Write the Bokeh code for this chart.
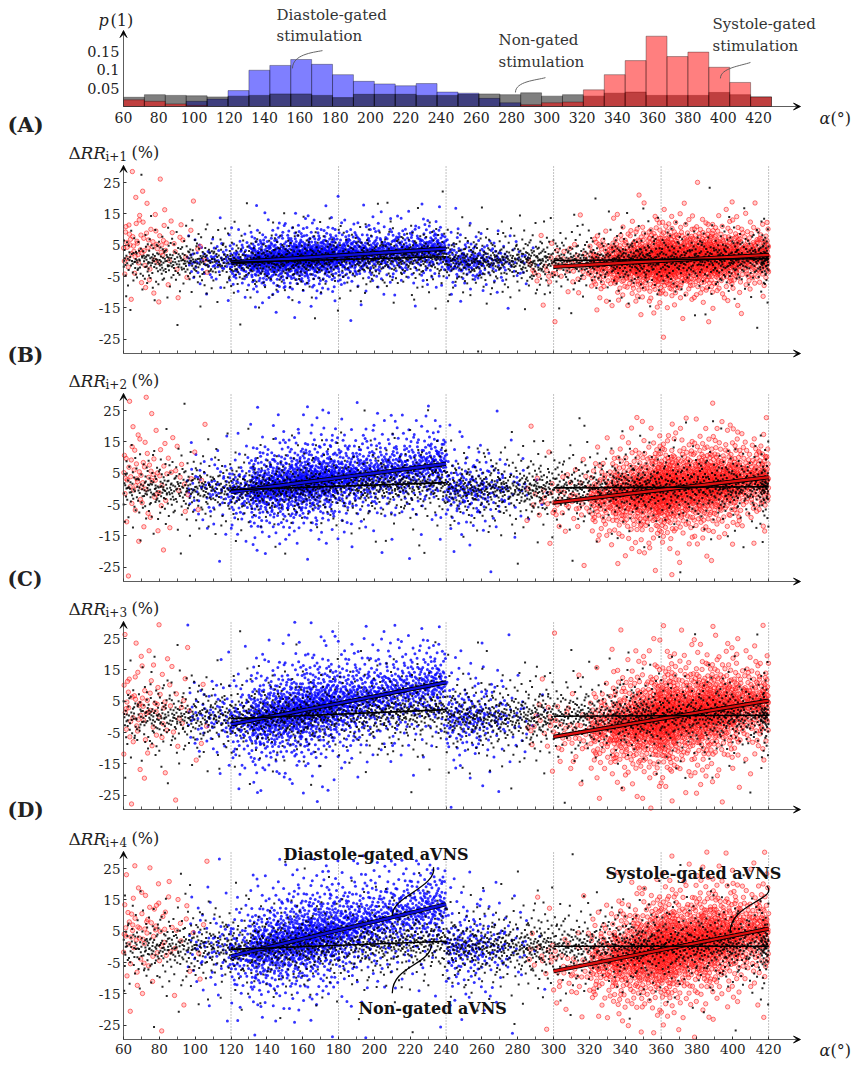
import numpy as np
from bokeh.plotting import figure
from bokeh.layouts import column
from bokeh.models import Label, Arrow, VeeHead, FixedTicker
from bokeh.embed import file_html
from bokeh.resources import INLINE

# ---------------- data ----------------
HIST_START = 60.0
HIST_WIDTH = 11.85          # degrees per histogram bin (31 bins)
HIST_BLUE = [0, 0, 0, 0.014, 0.020, 0.043, 0.098, 0.111, 0.127, 0.114, 0.086, 0.068,
             0.061, 0.056, 0.062, 0.039, 0.036, 0.022, 0.010, 0.002, 0, 0, 0, 0,
             0, 0, 0, 0, 0, 0, 0]
HIST_GRAY = [0.025, 0.032, 0.030, 0.029, 0.026, 0.028, 0.030, 0.034, 0.034, 0.030, 0.024,
             0.033, 0.033, 0.033, 0.030, 0.030, 0.033, 0.034, 0.032, 0.037, 0.028, 0.032,
             0.028, 0.036, 0.039, 0.030, 0.030, 0.030, 0.038, 0.032, 0.026]
HIST_RED = [0.018, 0.014, 0.007, 0.003, 0, 0, 0, 0, 0, 0, 0, 0, 0, 0, 0, 0, 0, 0, 0,
            0.005, 0.010, 0.012, 0.045, 0.086, 0.124, 0.190, 0.135, 0.147, 0.106, 0.065, 0.026]
X_TICKS = [60, 80, 100, 120, 140, 160, 180, 200, 220, 240, 260, 280, 300, 320, 340, 360, 380, 400, 420]
X_MINOR = [70, 90, 110, 130, 150, 170, 190, 210, 230, 250, 270, 290, 310, 330, 350, 370, 390, 410]
HIST_Y_TICKS = [0.05, 0.1, 0.15]
Y_TICKS = [-25, -15, -5, 5, 15, 25]
V_LINES = [120, 180, 240, 300, 360, 420]

PANEL_SUB = ["i+1", "i+2", "i+3", "i+4"]
PANEL_TAG = ["(A)", "(B)", "(C)", "(D)"]
# regression lines (value at gate start, value at gate end)
DIA_GATE = [120, 240]
SYS_GATE = [300, 420]
BLUE_Y0 = [-0.5, -1.0, -2.4, -3.0]
BLUE_Y1 = [3.9, 8.0, 11.0, 13.6]
NGD_Y0 = [-0.5, -0.3, -0.6, -0.8]
NGD_Y1 = [1.3, 2.0, 2.3, 1.8]
RED_Y0 = [-1.9, -4.4, -6.4, -7.8]
RED_Y1 = [1.9, 3.7, 5.2, 5.8]
NGS_Y0 = [0.1, 0.3, 0.2, 0.2]
NGS_Y1 = [0.7, 0.7, 0.5, 0.2]
# spread of the clouds (Laplace scale, %) per panel
BLACK_SPREAD = [3.4, 4.0, 4.4, 4.6]
BLUE_SPREAD = [3.0, 4.6, 5.4, 5.8]
RED_SPREAD = [3.3, 4.5, 5.3, 5.5]
RED_WRAP_CENTER = [5.0, 4.0, 3.0, 5.0]
RED_WRAP_SPREAD = [6.0, 8.0, 9.0, 9.0]
N_BLACK, N_BLUE, N_RED = 2200, 2000, 2000

# ---------------- layout (pixels) ----------------
FONT = "DejaVu Serif"
W = 856
X0_PX = 123                      # pixel column of alpha = 60 deg
HSX, HSY, H_AX = 1.764, 370.0, 106   # histogram scales, baseline row
SX, SY = 1.792, 3.13             # scatter scales
Y_LO, Y_ARROW = -29.6, 30.5
PANEL_ROWS = [(140, 368, 353), (368, 596, 581), (596, 824, 809), (824, 1063, 1039)]


def radical_inverse(idx, base):
    idx = np.asarray(idx, dtype=np.int64).copy()
    f = 1.0
    r = np.zeros(idx.shape)
    while np.any(idx > 0):
        f /= base
        r += f * (idx % base)
        idx //= base
    return r


def inv_hist(u, weights):
    w = np.asarray(weights, dtype=float)
    edges = np.minimum(HIST_START + HIST_WIDTH * np.arange(len(w) + 1), 420.0)
    cdf = np.concatenate([[0.0], np.cumsum(w)]) / w.sum()
    return np.interp(u, cdf, edges)


def laplace(v):
    v = np.clip(v, 1e-4, 1 - 1e-4)
    return -np.sign(v - 0.5) * np.log(1 - 2 * np.abs(v - 0.5))


def cloud(n, weights, offset):
    idx = np.arange(1, n + 1) + offset
    x = inv_hist(radical_inverse(idx, 2), weights)
    e = laplace(radical_inverse(idx, 3))
    return x, e


def line_at(x, gate, y0, y1):
    return np.interp(x, gate, [y0, y1])


def lab(p, x, y, text, size="15px", style="normal", align="left", color="#222"):
    p.add_layout(Label(x=x, y=y, text=text, text_font=FONT, text_font_size=size,
                       text_font_style=style, text_align=align, text_baseline="middle",
                       text_color=color))


def arrow(p, x0, y0, x1, y1):
    p.add_layout(Arrow(end=VeeHead(size=7, fill_color="black", line_color="black", line_width=0.8),
                       x_start=x0, y_start=y0, x_end=x1, y_end=y1,
                       line_color="#333", line_width=0.8))


def base_fig(height, xr, yr):
    p = figure(width=W, height=height, x_range=xr, y_range=yr, toolbar_location=None,
               output_backend="svg", min_border_left=0, min_border_right=0,
               min_border_top=0, min_border_bottom=0)
    p.outline_line_color = None
    p.grid.visible = False
    p.background_fill_color = "white"
    p.border_fill_color = "white"
    for ax in (p.xaxis[0], p.yaxis[0]):
        ax.axis_line_color = None
        ax.major_label_text_font = FONT
        ax.major_label_text_color = "#222"
        ax.major_tick_line_color = "#333"
        ax.minor_tick_line_color = "#555"
    return p


# ---------------- histogram ----------------
hx = lambda px: 60 + (px - X0_PX) / HSX
hy = lambda py: (H_AX - py) / HSY
ph = base_fig(140, (hx(0), hx(W)), (hy(140), hy(0)))
ph.xaxis.fixed_location = 0
ph.yaxis.fixed_location = 60
edges = HIST_START + HIST_WIDTH * np.arange(len(HIST_GRAY) + 1)
for vals, col in ((HIST_BLUE, "blue"), (HIST_GRAY, "black"), (HIST_RED, "red")):
    v = np.asarray(vals)
    m = v > 0
    ph.quad(left=edges[:-1][m], right=edges[1:][m], bottom=0, top=v[m],
            fill_color=col, fill_alpha=0.5, line_color="black", line_alpha=0.55, line_width=0.6)
ph.xaxis.ticker = FixedTicker(ticks=X_TICKS)
ph.xaxis.major_tick_in = 0
ph.xaxis.major_tick_out = 0
ph.xaxis.major_label_standoff = 5
ph.xaxis.major_label_text_font_size = "14px"
ph.yaxis.ticker = FixedTicker(ticks=HIST_Y_TICKS)
ph.yaxis.major_label_overrides = {t: str(t) for t in HIST_Y_TICKS}
ph.yaxis.major_tick_in = 0
ph.yaxis.major_tick_out = 0
ph.yaxis.major_label_standoff = 4
ph.yaxis.major_label_text_font_size = "14.5px"
arrow(ph, 60, 0, 60, hy(30))
arrow(ph, 60, 0, hx(800), 0)
lab(ph, hx(98), hy(20), "p", "16px", "italic")
lab(ph, hx(110), hy(20), "(1)", "16px")
lab(ph, hx(819), hy(118), "α", "16px", "italic")
lab(ph, hx(830), hy(118), "(°)", "16px")
lab(ph, hx(7), hy(124), "(A)", "21px", "bold")
lab(ph, hx(276), hy(14), "Diastole-gated", color="#333")
lab(ph, hx(276), hy(35), "stimulation", color="#333")
lab(ph, hx(498), hy(39), "Non-gated", color="#333")
lab(ph, hx(498), hy(61), "stimulation", color="#333")
lab(ph, hx(712), hy(23), "Systole-gated", color="#333")
lab(ph, hx(712), hy(45), "stimulation", color="#333")
ph.bezier(x0=[172.8, 299.2, 415.4], y0=[0.151, 0.078, 0.119],
          x1=[155.8, 282.2, 398.4], y1=[0.103, 0.038, 0.076],
          cx0=[167.0, 294.0, 410.0], cy0=[0.146, 0.071, 0.110],
          cx1=[155.8, 282.2, 398.4], cy1=[0.140, 0.068, 0.104],
          line_color="#555", line_width=0.9)

figs = [ph]

# ---------------- scatter panels ----------------
for i in range(4):
    top, bot, axis_row = PANEL_ROWS[i]
    sx = lambda px: 60 + (px - X0_PX) / SX
    sy = lambda py, a=axis_row: Y_LO + (a - py) / SY
    p = base_fig(bot - top, (sx(0), sx(W)), (sy(bot), sy(top)))
    p.xaxis.fixed_location = Y_LO
    p.yaxis.fixed_location = 60
    last = i == 3

    # dotted guides
    p.segment(x0=V_LINES, y0=Y_LO, x1=V_LINES, y1=Y_ARROW, line_color="#666",
              line_width=0.8, line_dash="1 2")

    # blue (diastole-gated)
    xb, eb = cloud(N_BLUE, HIST_BLUE, 1 + 7000 * i)
    inside = (xb >= DIA_GATE[0]) & (xb <= DIA_GATE[1])
    yb = np.where(inside, line_at(xb, DIA_GATE, BLUE_Y0[i], BLUE_Y1[i]), 0.0) + BLUE_SPREAD[i] * eb
    # red (systole-gated)
    xr, er = cloud(N_RED, HIST_RED, 3001 + 7000 * i)
    ins = (xr >= SYS_GATE[0]) & (xr <= SYS_GATE[1])
    cen = np.where(ins, line_at(xr, SYS_GATE, RED_Y0[i], RED_Y1[i]),
                   np.where(xr < 120, RED_WRAP_CENTER[i], -3.0))
    spr = np.where(xr < 120, RED_WRAP_SPREAD[i], RED_SPREAD[i])
    yr = cen + spr * er
    # black (non-gated)
    xk, ek = cloud(N_BLACK, HIST_GRAY, 5001 + 7000 * i)
    cen = np.where((xk >= DIA_GATE[0]) & (xk <= DIA_GATE[1]),
                   line_at(xk, DIA_GATE, NGD_Y0[i], NGD_Y1[i]),
                   np.where((xk >= SYS_GATE[0]) & (xk <= SYS_GATE[1]),
                            line_at(xk, SYS_GATE, NGS_Y0[i], NGS_Y1[i]), 0.0))
    yk = cen + BLACK_SPREAD[i] * ek

    def keep(x, y):
        m = (y > Y_LO + 0.3) & (y < Y_ARROW - 0.2)
        return x[m], y[m]

    x_, y_ = keep(xb, yb)
    p.scatter(x_, y_, marker="circle", size=3.0, fill_color="blue", fill_alpha=0.8,
              line_color=None)
    x_, y_ = keep(xr, yr)
    p.scatter(x_, y_, marker="circle", size=4.4, fill_color="#ff6060", fill_alpha=0.3,
              line_color="red", line_alpha=0.75, line_width=0.7)
    x_, y_ = keep(xk, yk)
    p.scatter(x_, y_, marker="square", size=2.0, fill_color="black", fill_alpha=0.85,
              line_color=None)

    # regression lines
    p.segment(x0=[DIA_GATE[0]], y0=[BLUE_Y0[i]], x1=[DIA_GATE[1]], y1=[BLUE_Y1[i]],
              line_color="black", line_width=4.2)
    p.segment(x0=[DIA_GATE[0]], y0=[BLUE_Y0[i]], x1=[DIA_GATE[1]], y1=[BLUE_Y1[i]],
              line_color="#1010e0", line_width=2.4)
    p.segment(x0=[SYS_GATE[0]], y0=[RED_Y0[i]], x1=[SYS_GATE[1]], y1=[RED_Y1[i]],
              line_color="black", line_width=4.2)
    p.segment(x0=[SYS_GATE[0]], y0=[RED_Y0[i]], x1=[SYS_GATE[1]], y1=[RED_Y1[i]],
              line_color="#e01010", line_width=2.4)
    p.segment(x0=[DIA_GATE[0], SYS_GATE[0]], y0=[NGD_Y0[i], NGS_Y0[i]],
              x1=[DIA_GATE[1], SYS_GATE[1]], y1=[NGD_Y1[i], NGS_Y1[i]],
              line_color="black", line_width=1.6)

    # axes
    p.yaxis.ticker = FixedTicker(ticks=Y_TICKS)
    p.yaxis.major_label_overrides = {t: str(t) for t in Y_TICKS}
    p.yaxis.major_tick_in = 3
    p.yaxis.major_tick_out = 0
    p.yaxis.major_label_standoff = 3
    p.yaxis.major_label_text_font_size = "13.5px"
    if last:
        p.xaxis.ticker = FixedTicker(ticks=X_TICKS, minor_ticks=X_MINOR)
        p.xaxis.major_label_text_font_size = "13.5px"
        p.xaxis.major_label_standoff = 4
    else:
        p.xaxis.ticker = FixedTicker(ticks=[], minor_ticks=X_TICKS + X_MINOR)
    p.xaxis.major_tick_in = 3
    p.xaxis.major_tick_out = 0
    p.xaxis.minor_tick_in = 3
    p.xaxis.minor_tick_out = 0
    arrow(p, 60, Y_LO, 60, Y_ARROW)
    arrow(p, 60, Y_LO, sx(800), Y_LO)

    # y label  ΔRR_{i+k} (%)
    yl = axis_row - 201
    lab(p, sx(68), sy(yl), "Δ", "17px")
    lab(p, sx(80), sy(yl), "RR", "17px", "italic")
    lab(p, sx(105), sy(yl + 4), PANEL_SUB[i], "12px")
    lab(p, sx(131), sy(yl), "(%)", "16px")

    if i < 3:
        tag_row = [354, 578, 809][i]
        lab(p, sx(7), sy(tag_row), PANEL_TAG[i + 1], "20px", "bold")
    else:
        lab(p, sx(819), sy(1050), "α", "16px", "italic")
        lab(p, sx(830), sy(1050), "(°)", "16px")
        lab(p, 149.3, 29.6, "Diastole-gated aVNS", "16px", "bold", color="#111")
        lab(p, 191.1, -19.6, "Non-gated aVNS", "16px", "bold", color="#111")
        lab(p, 329.0, 23.5, "Systole-gated aVNS", "16px", "bold", color="#111")
        p.bezier(x0=[233.0, 232.0, 419.0], y0=[25.5, 0.8, 19.5],
                 x1=[210.0, 210.0, 398.5], y1=[9.8, -14.8, 4.3],
                 cx0=[235.0, 231.0, 426.0], cy0=[19.0, -6.0, 15.0],
                 cx1=[209.0, 210.0, 398.0], cy1=[16.0, -6.0, 14.0],
                 line_color="black", line_width=1.3)
    figs.append(p)

layout = column(*figs, spacing=0)
open("out.html", "w").write(file_html(layout, INLINE))
